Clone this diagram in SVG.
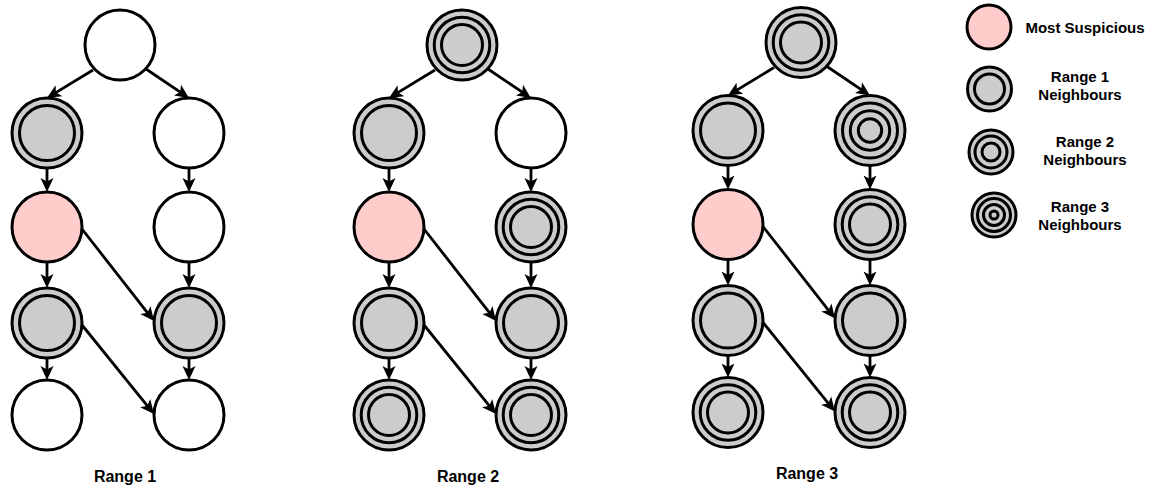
<svg xmlns="http://www.w3.org/2000/svg" width="1153" height="489" viewBox="0 0 1153 489">
<style>
.c{stroke:#000;stroke-width:3}
.w{fill:#fff}
.p{fill:#FFCCCC}
.g{fill:#CCCCCC}
.r{fill:none;stroke:#000;stroke-width:3}
.e{fill:none;stroke:#000;stroke-width:2.8;marker-end:url(#arr)}
.t{font-family:"Liberation Sans",Arial,Helvetica,sans-serif;font-weight:bold;text-anchor:middle;fill:#000}
.lt{font-size:16px}
.gt{font-size:15px}
</style>
<defs>
<marker id="arr" viewBox="0 0 14 14" refX="8" refY="7" markerWidth="14" markerHeight="14" markerUnits="userSpaceOnUse" orient="auto"><path d="M0,0.5 L14,7 L0,13.5 L3.5,7 Z" fill="#000"/></marker>
<g id="plain"><circle r="35" class="c w"/></g>
<g id="pink"><circle r="35" class="c p"/></g>
<g id="n1"><circle r="35" class="c g"/><circle r="27.5" class="r"/></g>
<g id="n2"><circle r="35" class="c g"/><circle r="27.8" class="r"/><circle r="20.5" class="r"/></g>
<g id="n3"><circle r="35" class="c g"/><circle r="27.5" class="r"/><circle r="19.7" class="r"/><circle r="11.7" class="r"/></g>
</defs>
<rect width="1153" height="489" fill="#fff"/>

<!-- Range 1 -->
<g id="range1">
<g id="connectors1">
<path class="e" d="M93,70 L52.1,94.9"/>
<path class="e" d="M146,69 L184,94.6"/>
<path class="e" d="M47,168 L47,186"/>
<path class="e" d="M189,168 L189,186"/>
<path class="e" d="M47,262 L47,282"/>
<path class="e" d="M189,262 L189,282"/>
<path class="e" d="M47,358 L47,374"/>
<path class="e" d="M189,358 L189,374"/>
<path class="e" d="M82,229 L150.3,316.3"/>
<path class="e" d="M82,325 L150.2,409.3"/>
</g>
<g id="r1-top"><use href="#plain" x="120" y="45"/></g>
<g id="r1-l1"><use href="#n1" x="47" y="133"/></g>
<g id="r1-r1"><use href="#plain" x="189" y="133"/></g>
<g id="r1-l2"><use href="#pink" x="47" y="227"/></g>
<g id="r1-r2"><use href="#plain" x="189" y="227"/></g>
<g id="r1-l3"><use href="#n1" x="47" y="323"/></g>
<g id="r1-r3"><use href="#n1" x="189" y="323"/></g>
<g id="r1-l4"><use href="#plain" x="47" y="415"/></g>
<g id="r1-r4"><use href="#plain" x="189" y="415"/></g>
<text class="t lt" x="125" y="482">Range 1</text>
</g>

<!-- Range 2 -->
<g id="range2" transform="translate(342,0)">
<g id="connectors2">
<path class="e" d="M93,70 L52.1,94.9"/>
<path class="e" d="M146,69 L184,94.6"/>
<path class="e" d="M47,168 L47,186"/>
<path class="e" d="M189,168 L189,186"/>
<path class="e" d="M47,262 L47,282"/>
<path class="e" d="M189,262 L189,282"/>
<path class="e" d="M47,358 L47,374"/>
<path class="e" d="M189,358 L189,374"/>
<path class="e" d="M82,229 L150.3,316.3"/>
<path class="e" d="M82,325 L150.2,409.3"/>
</g>
<g id="r2-top"><use href="#n2" x="120" y="45"/></g>
<g id="r2-l1"><use href="#n1" x="47" y="133"/></g>
<g id="r2-r1"><use href="#plain" x="189" y="133"/></g>
<g id="r2-l2"><use href="#pink" x="47" y="227"/></g>
<g id="r2-r2"><use href="#n2" x="189" y="227"/></g>
<g id="r2-l3"><use href="#n1" x="47" y="323"/></g>
<g id="r2-r3"><use href="#n1" x="189" y="323"/></g>
<g id="r2-l4"><use href="#n2" x="47" y="415"/></g>
<g id="r2-r4"><use href="#n2" x="189" y="415"/></g>
<text class="t lt" x="126" y="482">Range 2</text>
</g>

<!-- Range 3 -->
<g id="range3" transform="translate(681,-2.5)">
<g id="connectors3">
<path class="e" d="M93,70 L52.1,94.9"/>
<path class="e" d="M146,69 L184,94.6"/>
<path class="e" d="M47,168 L47,186"/>
<path class="e" d="M189,168 L189,186"/>
<path class="e" d="M47,262 L47,282"/>
<path class="e" d="M189,262 L189,282"/>
<path class="e" d="M47,358 L47,374"/>
<path class="e" d="M189,358 L189,374"/>
<path class="e" d="M82,229 L150.3,316.3"/>
<path class="e" d="M82,325 L150.2,409.3"/>
</g>
<g id="r3-top"><use href="#n2" x="120" y="45"/></g>
<g id="r3-l1"><use href="#n1" x="47" y="133"/></g>
<g id="r3-r1"><use href="#n3" x="189" y="133"/></g>
<g id="r3-l2"><use href="#pink" x="47" y="227"/></g>
<g id="r3-r2"><use href="#n2" x="189" y="227"/></g>
<g id="r3-l3"><use href="#n1" x="47" y="323"/></g>
<g id="r3-r3"><use href="#n1" x="189" y="323"/></g>
<g id="r3-l4"><use href="#n2" x="47" y="415"/></g>
<g id="r3-r4"><use href="#n2" x="189" y="415"/></g>
<text class="t lt" x="126" y="481.5">Range 3</text>
</g>

<!-- Legend -->
<g id="legend">
<g id="leg-most">
<circle cx="989" cy="27" r="22" class="c p"/>
<text class="t gt" x="1085" y="33">Most Suspicious</text>
</g>
<g id="leg-r1">
<circle cx="989.5" cy="89" r="22" class="c g"/>
<circle cx="989.5" cy="89" r="15" class="r"/>
<text class="t gt" x="1080" y="82">Range 1</text>
<text class="t gt" x="1080" y="100">Neighbours</text>
</g>
<g id="leg-r2">
<circle cx="991" cy="152" r="22" class="c g"/>
<circle cx="991" cy="152" r="16" class="r"/>
<circle cx="991" cy="152" r="9" class="r"/>
<text class="t gt" x="1085" y="147">Range 2</text>
<text class="t gt" x="1085" y="165">Neighbours</text>
</g>
<g id="leg-r3">
<circle cx="994" cy="215" r="22" class="c g"/>
<circle cx="994" cy="215" r="16.5" class="r"/>
<circle cx="994" cy="215" r="10.5" class="r"/>
<circle cx="994" cy="215" r="4" class="r"/>
<text class="t gt" x="1080" y="212">Range 3</text>
<text class="t gt" x="1080" y="230">Neighbours</text>
</g>
</g>
</svg>
